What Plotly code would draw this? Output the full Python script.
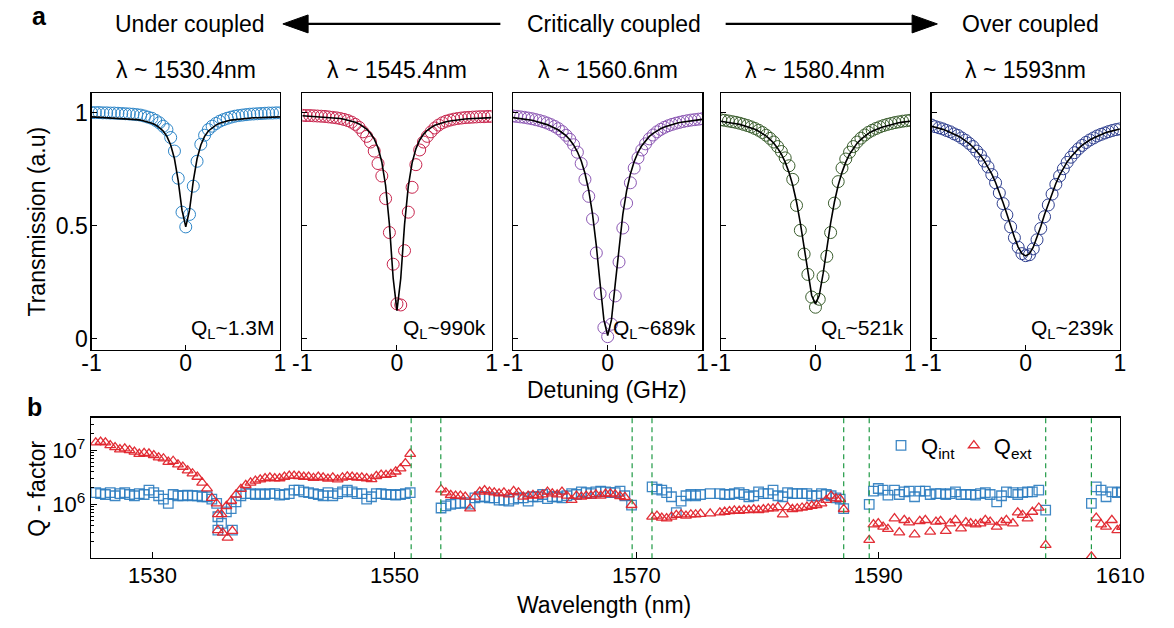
import plotly.graph_objects as go

W, H = 1174, 628
FONT = "Liberation Sans, Arial, sans-serif"


def px(x):
    return x / W


def py(y):
    return 1 - y / H


# ---------------- panel a data ----------------
detuning = [-1.00, -0.96, -0.92, -0.88, -0.84, -0.80, -0.76, -0.72, -0.68, -0.64, -0.60, -0.56, -0.52,
            -0.48, -0.44, -0.40, -0.36, -0.32, -0.28, -0.24, -0.20, -0.16, -0.12, -0.08, -0.04, 0.00,
            0.04, 0.08, 0.12, 0.16, 0.20, 0.24, 0.28, 0.32, 0.36, 0.40, 0.44, 0.48, 0.52, 0.56, 0.60,
            0.64, 0.68, 0.72, 0.76, 0.80, 0.84, 0.88, 0.92, 0.96, 1.00]

trans1 = [1.000, 1.000, 1.000, 0.999, 0.999, 0.998, 0.998, 0.997, 0.996, 0.995, 0.994, 0.993, 0.991,
          0.989, 0.985, 0.980, 0.975, 0.966, 0.955, 0.940, 0.925, 0.890, 0.830, 0.710, 0.560, 0.495,
          0.550, 0.675, 0.785, 0.860, 0.900, 0.925, 0.940, 0.952, 0.962, 0.969, 0.975, 0.980, 0.984,
          0.987, 0.989, 0.991, 0.993, 0.994, 0.995, 0.996, 0.997, 0.998, 0.998, 0.999, 0.999]
fit1 = [0.981, 0.980, 0.980, 0.979, 0.979, 0.978, 0.977, 0.977, 0.976, 0.974, 0.973, 0.971, 0.969,
        0.967, 0.963, 0.959, 0.953, 0.945, 0.934, 0.919, 0.895, 0.857, 0.796, 0.698, 0.569, 0.495,
        0.569, 0.698, 0.796, 0.857, 0.895, 0.919, 0.934, 0.945, 0.953, 0.959, 0.963, 0.967, 0.969,
        0.971, 0.973, 0.974, 0.976, 0.977, 0.977, 0.978, 0.979, 0.979, 0.980, 0.980, 0.981]

trans2 = [0.988, 0.987, 0.987, 0.986, 0.985, 0.984, 0.983, 0.981, 0.979, 0.977, 0.974, 0.970, 0.965,
          0.958, 0.948, 0.935, 0.915, 0.895, 0.870, 0.830, 0.775, 0.720, 0.620, 0.470, 0.330, 0.155,
          0.150, 0.390, 0.560, 0.670, 0.770, 0.835, 0.870, 0.895, 0.915, 0.932, 0.945, 0.955, 0.962,
          0.967, 0.971, 0.974, 0.976, 0.978, 0.979, 0.980, 0.981, 0.982, 0.982, 0.983, 0.983]
fit2 = [0.986, 0.985, 0.985, 0.984, 0.983, 0.982, 0.981, 0.980, 0.978, 0.976, 0.974, 0.971, 0.967,
        0.963, 0.957, 0.950, 0.940, 0.927, 0.909, 0.884, 0.845, 0.782, 0.678, 0.507, 0.268, 0.125,
        0.267, 0.505, 0.675, 0.778, 0.840, 0.879, 0.904, 0.922, 0.934, 0.944, 0.950, 0.956, 0.960,
        0.963, 0.966, 0.968, 0.970, 0.972, 0.973, 0.974, 0.975, 0.976, 0.977, 0.977, 0.978]

trans3 = [0.985, 0.983, 0.981, 0.979, 0.976, 0.973, 0.969, 0.965, 0.960, 0.954, 0.947, 0.939, 0.929,
          0.916, 0.900, 0.882, 0.858, 0.825, 0.775, 0.705, 0.630, 0.530, 0.380, 0.200, 0.050, 0.010,
          0.065, 0.190, 0.340, 0.490, 0.600, 0.690, 0.755, 0.800, 0.835, 0.862, 0.884, 0.901, 0.915,
          0.926, 0.935, 0.942, 0.948, 0.953, 0.957, 0.961, 0.964, 0.967, 0.969, 0.971, 0.973]
fit3 = [0.978, 0.976, 0.974, 0.971, 0.969, 0.966, 0.962, 0.958, 0.953, 0.947, 0.940, 0.932, 0.923,
        0.911, 0.898, 0.880, 0.857, 0.827, 0.787, 0.732, 0.656, 0.551, 0.412, 0.244, 0.084, 0.015,
        0.084, 0.243, 0.411, 0.550, 0.654, 0.729, 0.784, 0.824, 0.854, 0.877, 0.895, 0.908, 0.920,
        0.929, 0.936, 0.942, 0.948, 0.952, 0.956, 0.959, 0.962, 0.964, 0.966, 0.968, 0.970]

trans4 = [0.968, 0.966, 0.963, 0.960, 0.957, 0.953, 0.948, 0.943, 0.937, 0.930, 0.922, 0.912, 0.900,
          0.886, 0.870, 0.850, 0.828, 0.800, 0.765, 0.705, 0.590, 0.480, 0.375, 0.285, 0.185, 0.140,
          0.175, 0.275, 0.365, 0.470, 0.600, 0.695, 0.755, 0.795, 0.825, 0.850, 0.870, 0.887, 0.901,
          0.913, 0.922, 0.930, 0.937, 0.943, 0.948, 0.952, 0.956, 0.959, 0.962, 0.964, 0.966]
fit4 = [0.962, 0.960, 0.958, 0.955, 0.951, 0.948, 0.943, 0.938, 0.932, 0.926, 0.918, 0.908, 0.896,
        0.882, 0.865, 0.843, 0.816, 0.781, 0.736, 0.679, 0.605, 0.512, 0.402, 0.287, 0.192, 0.155,
        0.192, 0.287, 0.402, 0.512, 0.605, 0.679, 0.736, 0.781, 0.816, 0.843, 0.865, 0.882, 0.896,
        0.908, 0.918, 0.926, 0.932, 0.938, 0.943, 0.948, 0.951, 0.955, 0.958, 0.960, 0.962]

trans5 = [0.945, 0.938, 0.933, 0.928, 0.921, 0.915, 0.906, 0.899, 0.888, 0.878, 0.864, 0.850, 0.830,
          0.812, 0.786, 0.760, 0.726, 0.690, 0.645, 0.598, 0.548, 0.495, 0.447, 0.405, 0.377, 0.368,
          0.372, 0.398, 0.438, 0.488, 0.540, 0.592, 0.640, 0.683, 0.720, 0.752, 0.780, 0.803, 0.823,
          0.840, 0.855, 0.868, 0.879, 0.888, 0.897, 0.904, 0.910, 0.916, 0.921, 0.925, 0.928]
fit5 = [0.940, 0.936, 0.931, 0.926, 0.920, 0.913, 0.905, 0.897, 0.887, 0.876, 0.863, 0.848, 0.830,
        0.810, 0.787, 0.759, 0.728, 0.691, 0.649, 0.602, 0.552, 0.499, 0.449, 0.406, 0.377, 0.367,
        0.377, 0.405, 0.448, 0.497, 0.550, 0.599, 0.646, 0.687, 0.724, 0.754, 0.782, 0.804, 0.824,
        0.841, 0.856, 0.868, 0.879, 0.888, 0.896, 0.903, 0.910, 0.915, 0.920, 0.924, 0.928]

panel_wavelength = ["λ ~ 1530.4nm", "λ ~ 1545.4nm", "λ ~ 1560.6nm", "λ ~ 1580.4nm", "λ ~ 1593nm"]
panel_q = ["Q<sub>L</sub>~1.3M", "Q<sub>L</sub>~990k", "Q<sub>L</sub>~689k",
           "Q<sub>L</sub>~521k", "Q<sub>L</sub>~239k"]
panel_colors = ["#2e86c8", "#c8264e", "#8c58b4", "#3b5e2e", "#2f3f8f"]
trans_data = [trans1, trans2, trans3, trans4, trans5]
fit_data = [fit1, fit2, fit3, fit4, fit5]

# ---------------- panel b data ----------------
wl_1 = [1525.3, 1525.7, 1526.1, 1526.5, 1526.9, 1527.3, 1527.7, 1528.1, 1528.5, 1528.9,
        1529.3, 1529.7, 1530.1, 1530.5, 1530.9, 1531.3, 1531.7, 1532.1, 1532.5, 1532.9,
        1533.3, 1533.7, 1534.1, 1534.5, 1534.9, 1535.3, 1535.7, 1536.1, 1536.5, 1536.9,
        1537.3, 1537.7, 1538.1, 1538.5, 1538.9, 1539.3, 1539.7, 1540.1, 1540.5, 1540.9,
        1541.3, 1541.7, 1542.1, 1542.5, 1542.9, 1543.3, 1543.7, 1544.1, 1544.5, 1544.9,
        1545.3, 1545.7, 1546.1, 1546.5, 1546.9, 1547.3, 1547.7, 1548.1, 1548.5, 1548.9,
        1549.3, 1549.7, 1550.1, 1550.5, 1550.9, 1551.3]
qint_1 = [1.64e6, 1.57e6, 1.51e6, 1.64e6, 1.43e6, 1.57e6, 1.64e6, 1.51e6, 1.43e6, 1.57e6,
          1.51e6, 1.82e6, 1.64e6, 1.43e6, 1.24e6, 1.03e6, 1.51e6, 1.43e6, 1.43e6, 1.47e6,
          1.43e6, 1.43e6, 1.37e6, 1.37e6, 1.24e6, 1.03e6, 4.4e5, 7.2e5, 8.3e5, 1.1e6,
          1.43e6, 1.57e6, 1.57e6, 1.51e6, 1.57e6, 1.51e6, 1.57e6, 1.57e6, 1.47e6, 1.51e6,
          1.57e6, 1.82e6, 1.82e6, 1.69e6, 1.64e6, 1.57e6, 1.51e6, 1.43e6, 1.64e6, 1.43e6,
          1.57e6, 1.69e6, 1.82e6, 1.69e6, 1.57e6, 1.57e6, 1.24e6, 1.37e6, 1.57e6, 1.57e6,
          1.51e6, 1.51e6, 1.47e6, 1.51e6, 1.57e6, 1.64e6]
qext_1 = [1.38e7, 1.42e7, 1.38e7, 1.23e7, 1.13e7, 1.03e7, 1.07e7, 9.9e6, 9.3e6, 8.5e6,
          8.8e6, 8.6e6, 8.0e6, 7.3e6, 7.0e6, 6.05e6, 6.3e6, 5.4e6, 4.9e6, 4.2e6,
          3.7e6, 3.2e6, 2.5e6, 1.95e6, 1.3e6, 1.03e6, 6.5e5, 9.2e5, 1.15e6, 1.5e6,
          1.9e6, 2.25e6, 2.5e6, 2.7e6, 2.85e6, 3.0e6, 3.1e6, 3.0e6, 3.0e6, 3.2e6,
          3.35e6, 3.35e6, 3.3e6, 3.2e6, 3.2e6, 3.05e6, 3.2e6, 3.1e6, 2.95e6, 3.1e6,
          2.85e6, 3.1e6, 3.25e6, 3.2e6, 3.1e6, 3.1e6, 3.0e6, 2.9e6, 3.3e6, 3.5e6,
          3.45e6, 3.6e6, 4.0e6, 4.56e6, 5.7e6, 8.5e6]
# extra points inside the anti-crossing dip near 1536 nm
wl_dip_int = [1535.4, 1535.4, 1536.6]
qint_dip = [5.85e5, 3.3e5, 3.3e5]
wl_dip_ext = [1535.4, 1535.4, 1535.8, 1536.2, 1536.6]
qext_dip = [6.5e5, 3.3e5, 2.95e5, 2.4e5, 3.2e5]

wl_2 = [1553.85, 1554.25, 1554.65, 1555.05, 1555.45, 1555.85, 1556.25, 1556.65, 1557.05, 1557.45,
        1557.85, 1558.25, 1558.65, 1559.05, 1559.45, 1559.85, 1560.25, 1560.65, 1561.05, 1561.45,
        1561.85, 1562.25, 1562.65, 1563.05, 1563.45, 1563.85, 1564.25, 1564.65, 1565.05, 1565.45,
        1565.85, 1566.25, 1566.65, 1567.05, 1567.45, 1567.85, 1568.25, 1568.65, 1569.05, 1569.6]
qint_2 = [8.5e5, 9.3e5, 9.9e5, 1.03e6, 1.03e6, 1.07e6, 1.0e6, 1.31e6, 1.37e6, 1.37e6,
          1.31e6, 1.31e6, 1.19e6, 1.19e6, 1.14e6, 1.24e6, 1.31e6, 1.31e6, 1.14e6, 1.37e6,
          1.37e6, 1.51e6, 1.27e6, 1.37e6, 1.37e6, 1.31e6, 1.43e6, 1.57e6, 1.51e6, 1.69e6,
          1.64e6, 1.57e6, 1.69e6, 1.74e6, 1.69e6, 1.64e6, 1.64e6, 1.74e6, 1.43e6, 9.6e5]
qext_2 = [1.87e6, 1.64e6, 1.47e6, 1.43e6, 1.43e6, 1.37e6, 8.3e5, 1.37e6, 1.69e6, 1.8e6,
          1.69e6, 1.64e6, 1.57e6, 1.64e6, 1.51e6, 1.74e6, 1.64e6, 1.37e6, 1.43e6, 1.47e6,
          1.43e6, 1.51e6, 1.69e6, 1.57e6, 1.51e6, 1.69e6, 1.43e6, 1.19e6, 1.43e6, 1.37e6,
          1.43e6, 1.43e6, 1.51e6, 1.43e6, 1.55e6, 1.57e6, 1.51e6, 1.4e6, 1.35e6, 9.6e5]

wl_3 = [1571.3, 1571.7, 1572.1, 1572.5, 1572.9, 1573.3, 1573.7, 1574.1, 1574.5, 1574.9,
        1575.3, 1576.1, 1576.9, 1577.3, 1577.7, 1578.1, 1578.5, 1578.9, 1579.3, 1579.7,
        1580.1, 1580.5, 1580.9, 1581.3, 1581.7, 1582.1, 1582.5, 1582.9, 1583.3, 1583.7,
        1584.1, 1584.5, 1584.9, 1585.3, 1585.7, 1586.1, 1586.5, 1586.85, 1587.14]
qint_3 = [2.09e6, 1.89e6, 1.82e6, 1.64e6, 1.37e6, 7.0e5, 1.14e6, 1.43e6, 1.51e6, 1.43e6,
          1.51e6, 1.57e6, 1.57e6, 1.51e6, 1.51e6, 1.57e6, 1.64e6, 1.51e6, 1.37e6, 1.43e6,
          1.69e6, 1.57e6, 1.57e6, 1.82e6, 1.43e6, 1.37e6, 1.64e6, 1.57e6, 1.57e6, 1.57e6,
          1.57e6, 1.43e6, 1.43e6, 1.57e6, 1.51e6, 1.43e6, 1.31e6, 1.24e6, 8.3e5]
qext_3 = [5.85e5, 6.1e5, 5.6e5, 5.45e5, 5.85e5, 6.3e5, 6.45e5, 6.1e5, 6.45e5, 6.45e5,
          6.6e5, 6.7e5, 7.0e5, 7.2e5, 7.4e5, 7.6e5, 7.5e5, 7.75e5, 7.75e5, 8.0e5,
          7.75e5, 8.0e5, 8.3e5, 8.3e5, 8.8e5, 6.45e5, 8.8e5, 8.1e5, 8.3e5, 8.6e5,
          8.9e5, 9.3e5, 9.6e5, 1.03e6, 1.19e6, 1.43e6, 1.27e6, 1.24e6, 8.1e5]

wl_4 = [1589.25, 1589.6, 1590.0, 1590.4, 1590.8, 1591.34, 1591.74, 1592.15, 1592.55, 1593.0,
        1593.43, 1593.89, 1594.29, 1594.77, 1595.15, 1595.58, 1595.95, 1596.38, 1596.84, 1597.24,
        1597.64, 1598.05, 1598.45, 1598.85, 1599.25, 1599.79, 1600.19, 1600.59, 1601.13, 1601.53,
        1601.93, 1602.34, 1602.74, 1603.27, 1603.84]
qint_4 = [9.9e5, 1.74e6, 1.95e6, 1.82e6, 1.47e6, 1.82e6, 1.51e6, 1.69e6, 1.74e6, 1.37e6,
          1.74e6, 1.74e6, 1.51e6, 1.57e6, 1.57e6, 1.51e6, 1.57e6, 1.69e6, 1.51e6, 1.51e6,
          1.51e6, 1.47e6, 1.57e6, 1.64e6, 1.51e6, 1.1e6, 1.43e6, 1.69e6, 1.64e6, 1.51e6,
          1.64e6, 1.69e6, 1.69e6, 1.82e6, 7.75e5]
qext_4 = [2.17e5, 4.22e5, 4.4e5, 3.82e5, 3.46e5, 5.45e5, 3.0e5, 5.07e5, 4.59e5, 2.75e5,
          4.86e5, 5.07e5, 3.09e5, 4.72e5, 4.86e5, 3.18e5, 4.4e5, 5.07e5, 3.56e5, 4.59e5,
          4.4e5, 4.22e5, 4.4e5, 5.07e5, 4.72e5, 3.82e5, 4.59e5, 5.07e5, 4.4e5, 7.0e5,
          6.3e5, 5.45e5, 7.2e5, 8.6e5, 1.75e5]

wl_5 = [1607.62, 1608.02, 1608.42, 1608.83, 1609.31, 1609.76, 1610.15]
qint_5 = [1.03e6, 2.09e6, 1.82e6, 1.37e6, 1.69e6, 1.64e6, 1.69e6]
qext_5 = [1.07e5, 5.6e5, 4.22e5, 3.82e5, 5.07e5, 3.3e5, 3.8e5]

mode_boundaries = [1551.38, 1553.83, 1569.65, 1571.29, 1587.14, 1589.25, 1603.84, 1607.62]
wl_ticks = [1530, 1550, 1570, 1590, 1610]
q_ticks = [1e6, 1e7]
q_ticktext = ["10<sup>6</sup>", "10<sup>7</sup>"]
q_minor = [2e5, 3e5, 4e5, 5e5, 6e5, 7e5, 8e5, 9e5, 2e6, 3e6, 4e6, 5e6, 6e6, 7e6, 8e6, 9e6, 2e7, 3e7]

# ---------------- figure ----------------
fig = go.Figure()
panel_px = [(84, 278), (301, 496), (518, 713), (732, 927), (949, 1143)]
top_a, bot_a = 93, 351
top_b, bot_b, left_b, right_b = 419, 560, 83.3, 1143.3

layout_axes = {}
annotations = []
for k, (x0, x1) in enumerate(panel_px, start=1):
    sfx = "" if k == 1 else str(k)
    fig.add_trace(go.Scatter(
        x=detuning, y=trans_data[k - 1], mode="markers", xaxis="x" + sfx, yaxis="y" + sfx,
        marker=dict(symbol="circle-open", size=12, color=panel_colors[k - 1],
                    line=dict(width=1, color=panel_colors[k - 1])),
        showlegend=False, hoverinfo="skip"))
    fig.add_trace(go.Scatter(
        x=detuning, y=fit_data[k - 1], mode="lines", xaxis="x" + sfx, yaxis="y" + sfx,
        line=dict(color="black", width=1.6), showlegend=False, hoverinfo="skip"))
    layout_axes["xaxis" + sfx] = dict(
        domain=[px(x0), px(x1)], range=[-1, 1], tickvals=[-1, 0, 1], ticktext=["-1", "0", "1"],
        ticks="inside", ticklen=5, tickwidth=1, tickcolor="black", showline=True,
        linecolor="black", linewidth=1.2, mirror=True, showgrid=False, zeroline=False,
        anchor="y" + sfx, tickfont=dict(size=23, family=FONT, color="black"),
        ticklabelstandoff=-8)
    layout_axes["yaxis" + sfx] = dict(
        domain=[py(bot_a), py(top_a)], range=[-0.0485, 1.088], tickvals=[0, 0.5, 1],
        ticktext=["0", "0.5", "1"], ticks="inside", ticklen=5, tickwidth=1, tickcolor="black",
        showline=True, linecolor="black", linewidth=1.2, mirror=True, showgrid=False,
        zeroline=False, anchor="x" + sfx, showticklabels=(k == 1),
        tickfont=dict(size=23, family=FONT, color="black"), ticklabelstandoff=-2)
    cx = (x0 + x1) / 2
    annotations.append(dict(text=panel_wavelength[k - 1], x=px(cx), y=py(70), xref="paper",
                            yref="paper", showarrow=False, xanchor="center", yanchor="middle",
                            font=dict(size=23, family=FONT, color="black")))
    annotations.append(dict(text=panel_q[k - 1], x=px(x1 - 4), y=py(330), xref="paper",
                            yref="paper", showarrow=False, xanchor="right", yanchor="middle",
                            font=dict(size=21, family=FONT, color="black")))

wl_int = wl_1 + wl_dip_int + wl_2 + wl_3 + wl_4 + wl_5
q_int = qint_1 + qint_dip + qint_2 + qint_3 + qint_4 + qint_5
wl_ext = wl_1 + wl_dip_ext + wl_2 + wl_3 + wl_4 + wl_5
q_ext = qext_1 + qext_dip + qext_2 + qext_3 + qext_4 + qext_5

fig.add_trace(go.Scatter(
    x=wl_int, y=q_int, mode="markers", xaxis="x6", yaxis="y6", name="Q<sub>int</sub>",
    legend="legend",
    marker=dict(symbol="square-open", size=9.5, color="#2a7bbf", opacity=0.9,
                line=dict(width=1.3, color="#2a7bbf")), hoverinfo="skip"))
fig.add_trace(go.Scatter(
    x=wl_ext, y=q_ext, mode="markers", xaxis="x6", yaxis="y6", name="Q<sub>ext</sub>",
    legend="legend2",
    marker=dict(symbol="triangle-up-open", size=9.5, color="#e0242c", opacity=0.95,
                line=dict(width=1.3, color="#e0242c")), hoverinfo="skip"))

layout_axes["xaxis6"] = dict(
    domain=[px(left_b), px(right_b)], range=[1524.9, 1610], tickvals=wl_ticks,
    ticks="inside", ticklen=6, tickwidth=1, tickcolor="black", showline=True, linecolor="black",
    linewidth=1.2, mirror=True, showgrid=False, zeroline=False, anchor="y6",
    tickfont=dict(size=22, family=FONT, color="black"), ticklabelstandoff=-3)
layout_axes["yaxis6"] = dict(
    domain=[py(bot_b), py(top_b)], type="log", range=[5, 7.6], tickvals=q_ticks,
    ticktext=q_ticktext, ticks="inside", ticklen=6, tickwidth=1, tickcolor="black",
    showline=True, linecolor="black", linewidth=1.2, mirror=True, showgrid=False,
    zeroline=False, anchor="x6", tickfont=dict(size=22, family=FONT, color="black"),
    ticklabelstandoff=0,
    minor=dict(tickvals=q_minor, ticks="inside", ticklen=3, tickwidth=1, tickcolor="black",
               showgrid=False))

shapes = []
for wl in mode_boundaries:
    shapes.append(dict(type="line", xref="x6", yref="y6 domain", x0=wl, x1=wl, y0=0, y1=1,
                       line=dict(color="#1f9a45", width=1.2, dash="5px,4px")))

# coupling-regime arrows
ay = 24
shapes.append(dict(type="line", xref="paper", yref="paper", x0=px(505), x1=px(305),
                   y0=py(ay), y1=py(ay), line=dict(color="black", width=2.2)))
shapes.append(dict(type="path", xref="paper", yref="paper",
                   path=f"M {px(281)},{py(ay)} L {px(307)},{py(ay - 9)} L {px(307)},{py(ay + 9)} Z",
                   fillcolor="black", line=dict(color="black", width=1)))
shapes.append(dict(type="line", xref="paper", yref="paper", x0=px(737), x1=px(930),
                   y0=py(ay), y1=py(ay), line=dict(color="black", width=2.2)))
shapes.append(dict(type="path", xref="paper", yref="paper",
                   path=f"M {px(955)},{py(ay)} L {px(929)},{py(ay - 9)} L {px(929)},{py(ay + 9)} Z",
                   fillcolor="black", line=dict(color="black", width=1)))


def text_ann(text, x, y, size=23, angle=0, bold=False):
    return dict(text=f"<b>{text}</b>" if bold else text, x=px(x), y=py(y), xref="paper",
                yref="paper", showarrow=False, xanchor="center", yanchor="middle",
                textangle=angle, font=dict(size=size, family=FONT, color="black"))


annotations += [
    text_ann("a", 30, 16, size=25, bold=True),
    text_ann("b", 25, 408, size=25, bold=True),
    text_ann("Under coupled", 185, 24),
    text_ann("Critically coupled", 622, 24),
    text_ann("Over coupled", 1051, 24),
    text_ann("Transmission (a.u)", 28, 222, angle=-90),
    text_ann("Detuning (GHz)", 615, 391),
    text_ann("Q - factor", 28, 490, angle=-90),
    text_ann("Wavelength (nm)", 612, 607),
]

legend_style = dict(orientation="h", xanchor="left", yanchor="middle", y=py(447),
                    bgcolor="rgba(0,0,0,0)", font=dict(size=22, family=FONT, color="black"),
                    itemwidth=30)

fig.update_layout(
    width=W, height=H, margin=dict(l=0, r=0, t=0, b=0),
    paper_bgcolor="white", plot_bgcolor="white",
    font=dict(family=FONT, color="black"),
    showlegend=True,
    legend=dict(x=px(897), **legend_style),
    legend2=dict(x=px(972), **legend_style),
    annotations=annotations, shapes=shapes,
    **layout_axes)

fig.write_html("out.html", config={"displayModeBar": False, "staticPlot": True},
               post_script="document.body.style.margin='0';document.body.style.overflow='hidden';")
